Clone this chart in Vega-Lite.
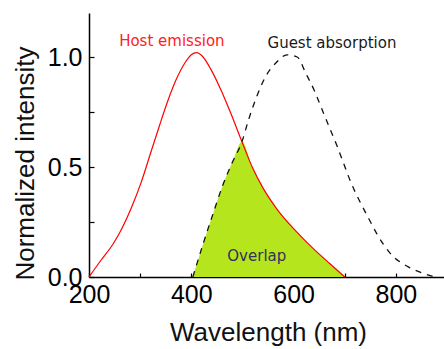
{
  "$schema": "https://vega.github.io/schema/vega-lite/v6.json",
  "width": 355,
  "height": 264,
  "autosize": {"type": "none"},
  "padding": {"left": 89, "top": 13, "right": 0, "bottom": 72},
  "background": "white",
  "config": {"view": {"stroke": null}, "axis": {"grid": false}},
  "datasets": {
    "curves": [
      {"series": "Host", "wavelength": 200, "intensity": 0.0},
      {"series": "Host", "wavelength": 223, "intensity": 0.075},
      {"series": "Host", "wavelength": 247, "intensity": 0.15},
      {"series": "Host", "wavelength": 262, "intensity": 0.21},
      {"series": "Host", "wavelength": 282, "intensity": 0.31},
      {"series": "Host", "wavelength": 302, "intensity": 0.43},
      {"series": "Host", "wavelength": 320, "intensity": 0.56},
      {"series": "Host", "wavelength": 338, "intensity": 0.69},
      {"series": "Host", "wavelength": 354, "intensity": 0.8},
      {"series": "Host", "wavelength": 370, "intensity": 0.895},
      {"series": "Host", "wavelength": 388, "intensity": 0.975},
      {"series": "Host", "wavelength": 400, "intensity": 1.01},
      {"series": "Host", "wavelength": 410, "intensity": 1.02},
      {"series": "Host", "wavelength": 423, "intensity": 1.0},
      {"series": "Host", "wavelength": 438, "intensity": 0.945},
      {"series": "Host", "wavelength": 458, "intensity": 0.85},
      {"series": "Host", "wavelength": 477, "intensity": 0.745},
      {"series": "Host", "wavelength": 499, "intensity": 0.615},
      {"series": "Host", "wavelength": 520, "intensity": 0.495},
      {"series": "Host", "wavelength": 540, "intensity": 0.405},
      {"series": "Host", "wavelength": 567, "intensity": 0.31},
      {"series": "Host", "wavelength": 606, "intensity": 0.205},
      {"series": "Host", "wavelength": 638, "intensity": 0.13},
      {"series": "Host", "wavelength": 671, "intensity": 0.06},
      {"series": "Host", "wavelength": 700, "intensity": 0.0},
      {"series": "Guest", "wavelength": 403, "intensity": 0.0},
      {"series": "Guest", "wavelength": 423, "intensity": 0.15},
      {"series": "Guest", "wavelength": 440, "intensity": 0.27},
      {"series": "Guest", "wavelength": 462, "intensity": 0.42},
      {"series": "Guest", "wavelength": 480, "intensity": 0.52},
      {"series": "Guest", "wavelength": 499, "intensity": 0.615},
      {"series": "Guest", "wavelength": 512, "intensity": 0.715},
      {"series": "Guest", "wavelength": 527, "intensity": 0.815},
      {"series": "Guest", "wavelength": 545, "intensity": 0.91},
      {"series": "Guest", "wavelength": 567, "intensity": 0.977},
      {"series": "Guest", "wavelength": 587, "intensity": 1.01},
      {"series": "Guest", "wavelength": 607, "intensity": 1.0},
      {"series": "Guest", "wavelength": 624, "intensity": 0.925},
      {"series": "Guest", "wavelength": 640, "intensity": 0.85},
      {"series": "Guest", "wavelength": 655, "intensity": 0.765},
      {"series": "Guest", "wavelength": 669, "intensity": 0.685},
      {"series": "Guest", "wavelength": 685, "intensity": 0.595},
      {"series": "Guest", "wavelength": 698, "intensity": 0.515},
      {"series": "Guest", "wavelength": 712, "intensity": 0.43},
      {"series": "Guest", "wavelength": 728, "intensity": 0.35},
      {"series": "Guest", "wavelength": 747, "intensity": 0.265},
      {"series": "Guest", "wavelength": 763, "intensity": 0.195},
      {"series": "Guest", "wavelength": 788, "intensity": 0.11},
      {"series": "Guest", "wavelength": 825, "intensity": 0.045},
      {"series": "Guest", "wavelength": 857, "intensity": 0.014},
      {"series": "Guest", "wavelength": 876, "intensity": 0.0},
      {"series": "Overlap", "wavelength": 403, "intensity": 0.0},
      {"series": "Overlap", "wavelength": 423, "intensity": 0.15},
      {"series": "Overlap", "wavelength": 440, "intensity": 0.27},
      {"series": "Overlap", "wavelength": 462, "intensity": 0.42},
      {"series": "Overlap", "wavelength": 480, "intensity": 0.52},
      {"series": "Overlap", "wavelength": 499, "intensity": 0.615},
      {"series": "Overlap", "wavelength": 520, "intensity": 0.495},
      {"series": "Overlap", "wavelength": 540, "intensity": 0.405},
      {"series": "Overlap", "wavelength": 567, "intensity": 0.31},
      {"series": "Overlap", "wavelength": 606, "intensity": 0.205},
      {"series": "Overlap", "wavelength": 638, "intensity": 0.13},
      {"series": "Overlap", "wavelength": 671, "intensity": 0.06},
      {"series": "Overlap", "wavelength": 700, "intensity": 0.0}
    ],
    "labels": [
      {"label": "Host emission", "wavelength": 362, "intensity": 1.073},
      {"label": "Guest absorption", "wavelength": 675, "intensity": 1.064},
      {"label": "Overlap", "wavelength": 528, "intensity": 0.095}
    ]
  },
  "layer": [
    {
      "data": {"name": "curves"},
      "transform": [{"filter": "datum.series === 'Overlap'"}],
      "mark": {"type": "area", "color": "#b5e61d", "interpolate": "monotone", "opacity": 1},
      "encoding": {
        "x": {
          "field": "wavelength", "type": "quantitative",
          "scale": {"domain": [200, 894], "nice": false, "zero": false},
          "axis": {
            "title": "Wavelength (nm)",
            "values": [200, 300, 400, 500, 600, 700, 800],
            "labelExpr": "datum.value % 200 === 0 ? datum.label : ''",
            "format": "d",
            "tickSize": -4,
            "tickColor": "#000", "tickWidth": 1.2,
            "domainColor": "#000", "domainWidth": 1.5,
            "labelFont": "Liberation Sans", "labelFontSize": 25, "labelColor": "#000",
            "labelPadding": 9, "labelFlush": false, "labelOverlap": false,
            "titleFont": "Liberation Sans", "titleFontSize": 26, "titleFontWeight": "normal", "titleColor": "#111",
            "titleX": 179, "titleY": 55, "titleBaseline": "middle", "titleAnchor": "middle"
          }
        },
        "y": {
          "field": "intensity", "type": "quantitative",
          "scale": {"domain": [0, 1.2], "nice": false, "zero": true},
          "axis": {
            "title": "Normalized intensity",
            "values": [0, 0.25, 0.5, 0.75, 1.0],
            "labelExpr": "(datum.value * 100) % 50 === 0 ? format(datum.value, '.1f') : ''",
            "tickSize": -5,
            "tickColor": "#000", "tickWidth": 1.2,
            "domainColor": "#000", "domainWidth": 1.5,
            "labelFont": "Liberation Sans", "labelFontSize": 25, "labelColor": "#000",
            "labelPadding": 12, "labelFlush": false, "labelOverlap": false,
            "titleFont": "Liberation Sans", "titleFontSize": 26, "titleFontWeight": "normal", "titleColor": "#111",
            "titleX": -64, "titleY": 150, "titleBaseline": "middle", "titleAnchor": "middle", "titleAngle": -90
          }
        }
      }
    },
    {
      "data": {"name": "curves"},
      "transform": [{"filter": "datum.series === 'Host'"}],
      "mark": {"type": "line", "color": "#ff0000", "strokeWidth": 1.2, "interpolate": "monotone"},
      "encoding": {
        "x": {"field": "wavelength", "type": "quantitative"},
        "y": {"field": "intensity", "type": "quantitative"}
      }
    },
    {
      "data": {"name": "curves"},
      "transform": [{"filter": "datum.series === 'Guest'"}],
      "mark": {"type": "line", "color": "#111111", "strokeWidth": 1.3, "strokeDash": [6, 6], "interpolate": "monotone"},
      "encoding": {
        "x": {"field": "wavelength", "type": "quantitative"},
        "y": {"field": "intensity", "type": "quantitative"}
      }
    },
    {
      "mark": {"type": "rule", "color": "#333", "strokeWidth": 1.8},
      "encoding": {"y": {"datum": 1.2}}
    },
    {
      "data": {"name": "labels"},
      "transform": [{"filter": "datum.label === 'Host emission'"}],
      "mark": {"type": "text", "font": "DejaVu Sans", "fontSize": 15, "color": "#ff2020", "align": "center", "baseline": "middle"},
      "encoding": {
        "x": {"field": "wavelength", "type": "quantitative"},
        "y": {"field": "intensity", "type": "quantitative"},
        "text": {"field": "label"}
      }
    },
    {
      "data": {"name": "labels"},
      "transform": [{"filter": "datum.label === 'Guest absorption'"}],
      "mark": {"type": "text", "font": "DejaVu Sans", "fontSize": 15, "color": "#1a1a1a", "align": "center", "baseline": "middle"},
      "encoding": {
        "x": {"field": "wavelength", "type": "quantitative"},
        "y": {"field": "intensity", "type": "quantitative"},
        "text": {"field": "label"}
      }
    },
    {
      "data": {"name": "labels"},
      "transform": [{"filter": "datum.label === 'Overlap'"}],
      "mark": {"type": "text", "font": "DejaVu Sans", "fontSize": 15, "color": "#33305a", "align": "center", "baseline": "middle"},
      "encoding": {
        "x": {"field": "wavelength", "type": "quantitative"},
        "y": {"field": "intensity", "type": "quantitative"},
        "text": {"field": "label"}
      }
    }
  ]
}
